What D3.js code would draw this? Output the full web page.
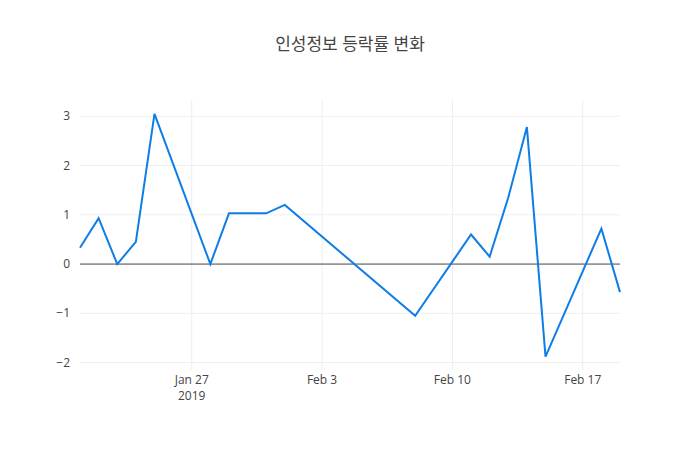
<!DOCTYPE html>
<html><head><meta charset="utf-8">
<script src="https://cdn.jsdelivr.net/npm/d3@7"></script>
<style>body{margin:0;background:#fff}text{font-family:"Open Sans","Noto Sans CJK KR",sans-serif;fill:#444}</style>
</head><body><svg id="c" width="700" height="450"></svg>
<script>
var dates = ["2019-01-21","2019-01-22","2019-01-23","2019-01-24","2019-01-25","2019-01-28","2019-01-29","2019-01-31","2019-02-01","2019-02-08","2019-02-11","2019-02-12","2019-02-13","2019-02-14","2019-02-15","2019-02-18","2019-02-19"];
var values = [0.33,0.93,0.0,0.45,3.05,0.0,1.03,1.03,1.2,-1.05,0.6,0.15,1.35,2.78,-1.88,0.72,-0.57];
var yTicks = [-2,-1,0,1,2,3];
var xTicks = ["2019-01-27","2019-02-03","2019-02-10","2019-02-17"];
var xTickLabels = ["Jan 27","Feb 3","Feb 10","Feb 17"];

var parse = d3.utcParse("%Y-%m-%d");
var svg = d3.select("#c");
var L = 80, R = 620, T = 100, B = 370;
var x = d3.scaleUtc().domain([parse(dates[0]), parse(dates[dates.length-1])]).range([L, R]);
var y = d3.scaleLinear().domain([-2.15, 3.33]).range([B, T]);

var g = svg.append("g");
g.selectAll(".xg").data(xTicks).join("line")
  .attr("x1", d => x(parse(d))).attr("x2", d => x(parse(d)))
  .attr("y1", T).attr("y2", B).attr("stroke", "#eee");
g.selectAll(".yg").data(yTicks).join("line")
  .attr("x1", L).attr("x2", R).attr("y1", d => y(d)).attr("y2", d => y(d))
  .attr("stroke", d => d === 0 ? "#444" : "#eee");

g.selectAll(".yl").data(yTicks).join("text")
  .attr("x", L - 10).attr("y", d => y(d) + 4).attr("text-anchor", "end")
  .attr("font-size", 12).text(d => d < 0 ? "\u2212" + Math.abs(d) : d);
g.selectAll(".xl").data(xTicks).join("text")
  .attr("x", d => x(parse(d))).attr("y", B + 14).attr("text-anchor", "middle")
  .attr("font-size", 12).text((d, i) => xTickLabels[i]);
g.append("text").attr("x", x(parse(xTicks[0]))).attr("y", B + 30)
  .attr("text-anchor", "middle").attr("font-size", 12).text("2019");

var line = d3.line().x((d, i) => x(parse(dates[i]))).y(d => y(d));
svg.append("path").datum(values).attr("d", line)
  .attr("fill", "none").attr("stroke", "#0e7de6").attr("stroke-width", 2);

svg.append("text").attr("x", 350).attr("y", 50).attr("text-anchor", "middle")
  .attr("font-size", 17).text("인성정보 등락률 변화");
</script></body></html>
